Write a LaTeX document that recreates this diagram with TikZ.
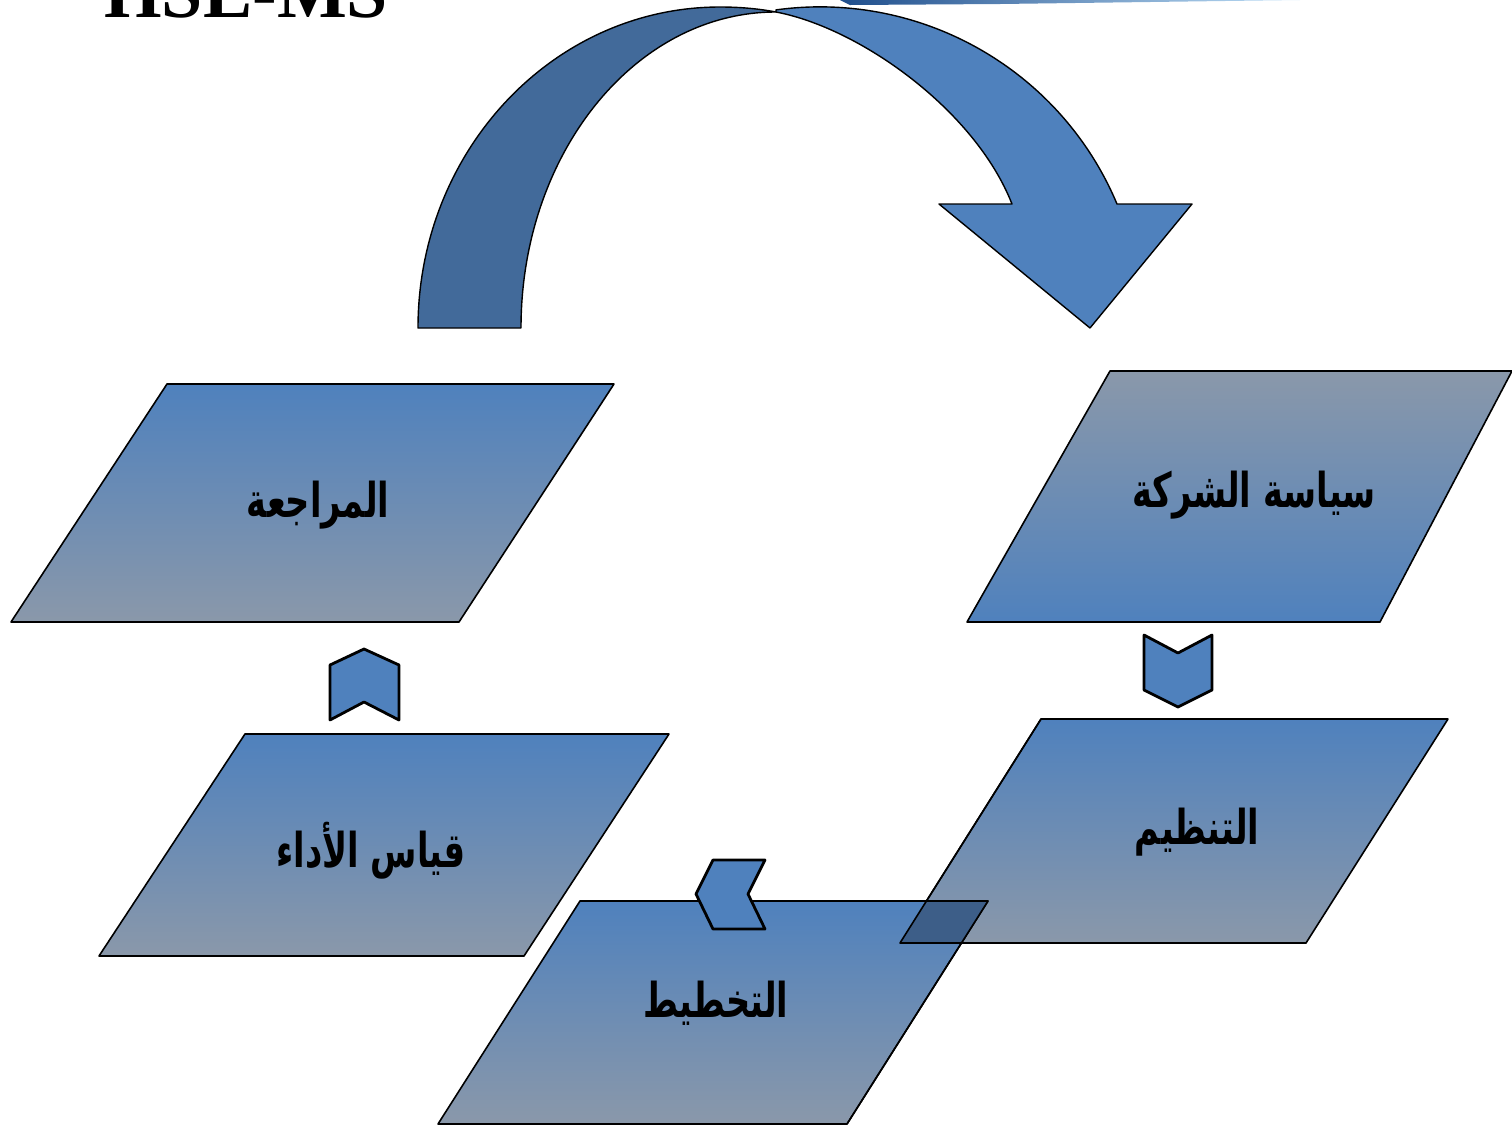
\documentclass[tikz,border=0pt]{standalone}
\usepackage{fontspec}
\newfontfamily\arabicfont[Script=Arabic, FakeStretch=0.7]{DejaVu Sans}
\newfontfamily\titlefont{Liberation Serif}
\TeXXeTstate=1
\definecolor{bandblue}{HTML}{4F81BD}
\definecolor{banddark}{HTML}{426A9A}
\definecolor{boxgray}{HTML}{8A98AA}
\definecolor{overlapblue}{HTML}{3D5E88}
\definecolor{linedark}{HTML}{1F4E8C}
\definecolor{linelight}{HTML}{BFE0F8}
\begin{document}
\begin{tikzpicture}[x=0.5pt, y=-0.5pt, line join=round,
    boxdown/.style={draw=black, line width=0.8pt, top color=bandblue, bottom color=boxgray},
    boxup/.style={draw=black, line width=0.8pt, top color=boxgray, bottom color=bandblue},
    chev/.style={draw=black, line width=1.4pt, fill=bandblue},
    arlabel/.style={font=\arabicfont\bfseries\fontsize{24}{28}\selectfont}]
  \useasboundingbox (0,0) rectangle (1512,1126);
  % title, cut by the top edge
  \node[anchor=base west, inner sep=0pt, font=\titlefont\bfseries\fontsize{37}{40}\selectfont] (title) at (104,17) {HSE-MS};
  \shade[left color=linedark, right color=linelight] (840,0) -- (1300,0) -- (1000,4) -- (850,5) -- cycle;
  % curved arrow
  \draw[fill=banddark, line width=0.7pt] (418,328) .. controls (418,151) and (553,7) .. (720,7)
    .. controls (742,7) and (760,9) .. (776,12) .. controls (635,12) and (521,154) .. (521,328) -- cycle;
  \draw[fill=bandblue, line width=0.7pt] (776,12) .. controls (860,28) and (975,110) .. (1012,204)
    -- (939,204) -- (1090,328) -- (1192,204) -- (1117,204)
    arc[start angle=-22.7, end angle=-97.85, x radius=322, y radius=321] -- cycle;
  % steps
  \path[boxup] (1110,371) -- (1512,371) -- (1380,622) -- (967,622) -- cycle;
  \path[boxdown] (167,384) -- (614,384) -- (459,622) -- (11,622) -- cycle;
  \path[boxdown] (1041,719) -- (1448,719) -- (1306,943) -- (900,943) -- cycle;
  \path[boxdown] (245,734) -- (669,734) -- (524,956) -- (99,956) -- cycle;
  \path[boxdown] (580,901) -- (988,901) -- (847,1124) -- (438,1124) -- cycle;
  \fill[overlapblue] (926,901) -- (988,901) -- (961,943) -- (900,943) -- cycle;
  \draw[line width=0.8pt] (1041,719) -- (900,943) -- (1306,943);
  \draw[line width=0.8pt] (580,901) -- (988,901) -- (847,1124);
  \node[arlabel] (policy) at (1254,495) {\beginR سياسة الشركة\endR};
  \node[arlabel] (review) at (318,505) {\beginR المراجعة\endR};
  \node[arlabel] (organise) at (1197,832) {\beginR التنظيم\endR};
  \node[arlabel] (measure) at (371,851) {\beginR قياس الأداء\endR};
  \node[arlabel] (planning) at (716,1003) {\beginR التخطيط\endR};
  % chevrons
  \draw[chev] (364,649) -- (399,665) -- (399,720) -- (364,702) -- (330,720) -- (330,665) -- cycle;
  \draw[chev] (1144,635) -- (1178,653) -- (1212,635) -- (1212,690) -- (1178,707) -- (1144,690) -- cycle;
  \draw[chev] (713,860) -- (765,860) -- (748,894) -- (765,929) -- (713,929) -- (696,894) -- cycle;
\end{tikzpicture}
\end{document}
